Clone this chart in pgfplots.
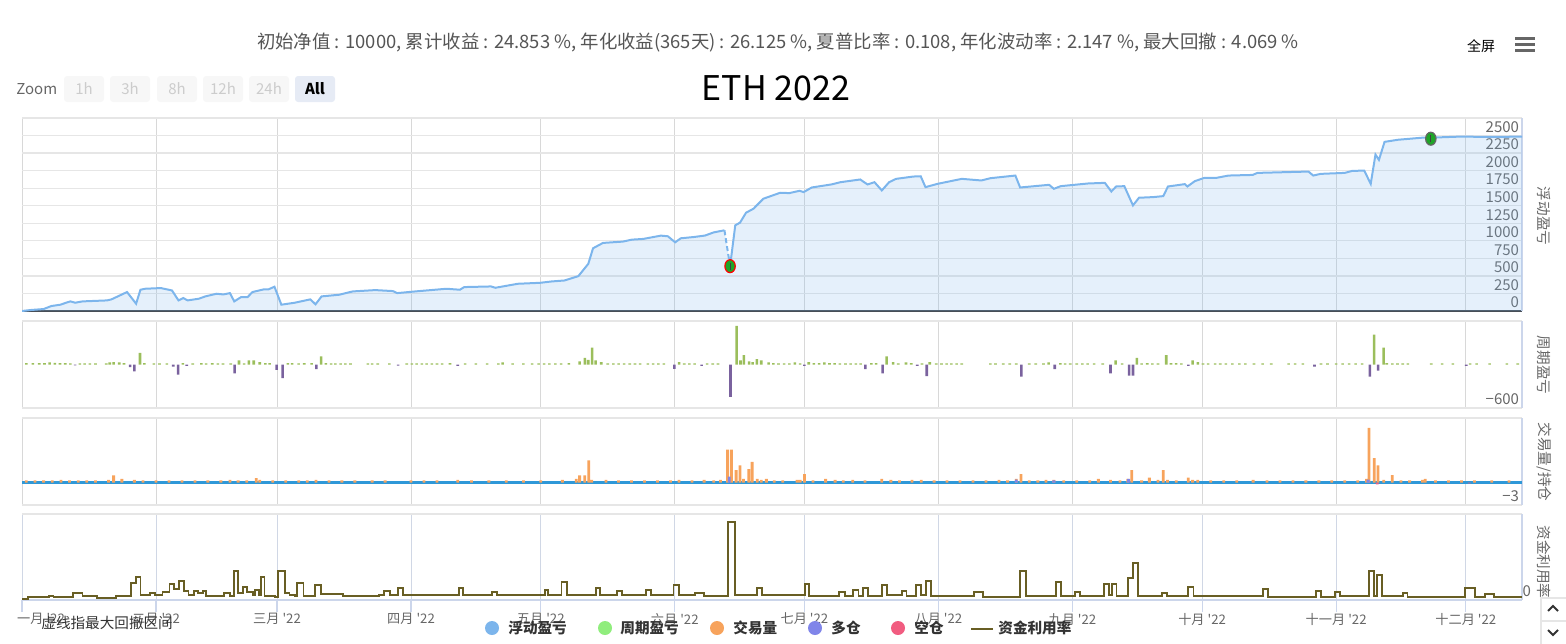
\documentclass[border=0pt]{standalone}
\usepackage{fontspec}
\setmainfont{Noto Sans CJK SC}
\usepackage{pgfplots}
\usepackage{pgfplotstable}
\pgfplotsset{compat=1.18}
\definecolor{eqline}{RGB}{124,181,236}
\definecolor{barG}{RGB}{155,190,92}
\definecolor{barP}{RGB}{122,98,158}
\definecolor{legG}{RGB}{144,237,125}
\definecolor{orng}{RGB}{247,163,92}
\definecolor{duo}{RGB}{128,133,233}
\definecolor{kong}{RGB}{241,92,128}
\definecolor{olive}{RGB}{104,94,36}
\definecolor{holdblue}{RGB}{47,152,216}
\definecolor{gridh}{RGB}{230,230,230}
\definecolor{gridv}{RGB}{216,216,216}
\definecolor{axisblue}{RGB}{204,214,235}
\definecolor{axisdark}{RGB}{70,76,84}
\definecolor{txtsix}{RGB}{102,102,102}
\definecolor{txtfive}{RGB}{85,85,85}
\definecolor{txtthree}{RGB}{51,51,51}
\definecolor{btnfill}{RGB}{247,247,247}
\definecolor{btntxt}{RGB}{204,204,204}
\definecolor{btnsel}{RGB}{230,235,245}
\definecolor{mkgreen}{RGB}{30,165,40}
\newcommand{\tickfont}{\fontsize{7.5}{8}\selectfont}
\newcommand{\xtickfont}{\fontsize{6.6}{7}\selectfont}
\newcommand{\legfont}{\fontsize{7.3}{8}\selectfont}
\newcommand{\yr}{ \textquotesingle 22}

\pgfplotstableread{
d v
0 0
2 14
5 28
6.8 71
8.9 90
10.2 118
11.2 137
12.3 118
14 137
19.7 151
20.7 166
24.3 270
26.4 104
27.4 303
28.5 317
32.1 327
34.7 293
36.2 151
37.3 185
38.3 151
40.9 175
42.4 208
45 246
46.6 236
48.1 255
49.1 137
50.7 199
52.2 199
53.3 270
55.9 308
57 308
58.4 346
60 90
63.1 118
66.7 166
67.9 95
69.3 208
73.4 232
76.5 279
81.7 298
85.8 284
86.8 255
91 279
98.2 317
101.3 303
102.3 341
108.5 350
109.5 331
114.7 388
119.9 402
122.5 421
125.5 435
128.7 497
131 672
132.1 894
134.4 970
139 989
141.1 1017
143.7 1027
147.8 1074
149.4 1065
151.1 979
152.4 1036
155.5 1055
158 1075
160 1120
162.5 1150
163.8 639
165 1221
166.1 1259
167.5 1401
169.2 1457
171.5 1600
175.4 1685
177.5 1680
179.9 1713
180.8 1694
182.7 1760
187.2 1803
189.4 1836
193.9 1874
195.6 1803
197.2 1836
198.9 1718
200.6 1836
202.2 1883
206.2 1916
207.9 1920
209 1765
211.8 1812
217.4 1883
221.9 1860
224.1 1893
229.8 1930
230.9 1760
237.6 1798
238.7 1741
240.3 1779
246.6 1817
250.5 1826
252 1703
253.1 1774
255 1779
257 1505
258.4 1614
261.7 1623
264 1637
265.1 1774
269 1808
269.6 1774
271.3 1850
273.5 1897
276.3 1897
279.1 1930
284.7 1939
285.8 1968
297.6 1987
298.7 1930
300.4 1954
306 1968
307.7 1996
310.5 2001
312 1812
313.1 2229
313.9 2153
315.2 2410
318.3 2440
324 2470
325.9 2470
332.7 2485
340 2480
347 2485
}\eqdata

\pgfplotsset{
 panel/.style={
  scale only axis, width=750pt, xmin=0, xmax=347, anchor=south west,
  xtick={0,31,59,90,120,151,181,212,243,273,304,334},
  xticklabels={},
  xmajorgrids, ymajorgrids,
  every axis x grid/.style={draw=gridv, line width=0.5pt},
  every axis y grid/.style={draw=gridh, line width=0.6pt},
  tick style={draw=none},
  axis x line*=bottom, axis y line*=right,
  x axis line style={-, draw=none},
  y axis line style={-, draw=axisblue, line width=0.6pt},
  yticklabel pos=right,
  yticklabel style={anchor=south east, inner sep=1.3pt, font=\tickfont, text=txtsix},
 }
}

\begin{document}
\begin{tikzpicture}[x=0.5pt,y=-0.5pt]
\path[use as bounding box] (0,0) rectangle (1566,643);
\coordinate (P1) at (22,311);
\coordinate (P2) at (22,408);
\coordinate (P3) at (22,505);
\coordinate (P4) at (22,600);

% header
\node[text=txtfive, font=\fontsize{9.2}{10}\selectfont] at (778,43) {初始净值 : 10000, 累计收益 : 24.853 \%, 年化收益(365天) : 26.125 \%, 夏普比率 : 0.108, 年化波动率 : 2.147 \%, 最大回撤 : 4.069 \%};
\node[text=black, font=\fontsize{7}{8}\selectfont] at (1481,46) {全屏};
\foreach \yy in {38,44,50} {\draw[txtsix, line width=1.5pt] (1515,\yy) -- (1535,\yy);}
\node[text=txtsix, font=\fontsize{7.5}{9}\selectfont, anchor=west, inner sep=0pt] at (16,89) {Zoom};
\foreach \xa/\lab in {64/1h,110/3h,157/8h,203/12h,249/24h} {
  \fill[btnfill, rounded corners=1.5pt] (\xa,76) rectangle ++(40,26);
  \node[text=btntxt, font=\fontsize{7.5}{9}\selectfont] at (\xa+20,89) {\lab};
}
\fill[btnsel, rounded corners=1.5pt] (295,76) rectangle ++(40,26);
\node[text=black, font=\bfseries\fontsize{7.5}{9}\selectfont] at (315,89) {All};
\node[text=black, font=\fontsize{17}{20}\selectfont] at (776,88) {ETH 2022};

% panel 1
\begin{axis}[panel, at={(P1)}, height=96.5pt,
  ymin=0, ymax=2750, ytick={0,250,...,2750},
  yticklabels={0,250,500,750,1000,1250,1500,1750,2000,2250,2500,{}},
  x axis line style={-, draw=axisdark, line width=1.1pt}]
\addplot[draw=none, fill=eqline, fill opacity=0.2] table {\eqdata} \closedcycle;
\addplot[eqline, line width=1pt, restrict x to domain=0:162.6] table {\eqdata};
\addplot[eqline, line width=1pt, dash pattern=on 2.5pt off 1.5pt] coordinates {(162.5,1150) (163.8,639)};
\addplot[eqline, line width=1pt, restrict x to domain=163.7:347] table {\eqdata};
\addplot[only marks, mark=*, mark size=2.6pt, mark options={fill=mkgreen, draw=red, line width=0.6pt, yscale=1.25}] coordinates {(163.8,639)};
\addplot[only marks, mark=*, mark size=2.6pt, mark options={fill=mkgreen, draw=black!60, line width=0.6pt, yscale=1.25}] coordinates {(325.9,2455)};
\addplot[only marks, mark=|, mark size=1.7pt, mark options={draw=black!75, line width=0.4pt}] coordinates {(163.8,639) (325.9,2455)};
\end{axis}

% panel 2
\begin{axis}[panel, at={(P2)}, height=43.5pt,
  ymin=-600, ymax=600, ytick={-600,600}, yticklabels={−600,{}}]
\addplot[ybar, bar width=1.3pt, fill=barG, draw=none] coordinates {
(1,18)(2.5,18)(4,18)(5.2,18)(6.4,28)(7.6,22)(8.8,20)(10,18)(11.2,15)(13.4,15)(14.5,15)(15.7,15)(17,15)(19.5,15)(20.3,28)(21.2,33)(22.5,28)(23.6,20)(27.3,159)(28.3,20)(30.5,15)(31.8,15)
(33.5,15)(37.2,19)(39.5,15)(41.5,20)(42.6,15)(44,20)(45.3,15)(46.5,15)(48.3,15)(50.2,56)(51.4,15)(52.5,56)(53.6,56)(55,33)(56.3,20)(57.3,20)
(61.5,20)(62.5,20)(64,15)(65.3,20)(67,20)(69.2,112)(70.3,20)(71.5,15)(72.5,15)(73.7,15)(74.8,15)(76,15)(80,15)(81,15)(82.3,15)(85,15)
(89,15)(90.2,15)(91.3,15)(92.5,15)(93.6,15)(94.8,15)(96,15)(97.2,15)(99,20)(102.5,15)(105,15)(107.6,15)(110.2,15)(111.2,28)(113.5,15)(116,15)
(118,15)(119.5,15)(120.8,15)(122,15)(123.4,15)(124.7,15)(126.5,20)(129,42)(130.2,93)(131,65)(131.9,233)(132.7,56)(134,33)(135.5,15)(136.8,15)(138,15)(139.3,15)(140.6,15)(141.8,15)(143,15)(144.8,15)(146,15)(147.2,15)(148.5,15)(152,33)(153.2,15)(154.4,15)(155.6,15)(158.5,15)(159.8,15)(161,15)
(165.3,532)(166.2,56)(167,131)(168.2,42)(169,33)(170,75)(171,56)(172.7,28)(173.8,20)(175,15)(176.3,15)(177.5,15)(178.8,28)(180,15)(182,33)(183.2,20)(184.4,20)(185.6,28)(186.8,20)(188,20)(189.2,15)(190.5,15)(191.7,15)(192.9,15)(194,15)(196.5,20)(197.6,20)(200,112)(201.5,33)(202.7,15)(204.5,28)(205.7,20)(208.2,15)(210,33)(211.5,15)(212.7,15)(213.9,15)(215,15)(216.2,15)(217.4,15)
(224,15)(225.2,15)(227,15)(228.5,15)(230,15)(233,15)(234.5,15)(236.3,15)(237.5,28)(240.2,19)(241.3,15)(242.5,15)(244,15)(245.3,15)(246.5,15)(248,15)
(250,15)(253,56)(254.5,15)(257.9,93)(259,15)(260.3,20)(261.5,15)(262.8,15)(264.7,131)(265.8,20)(267,20)(268.2,15)(270.8,56)(272,33)(273.2,15)(274.4,15)(276,15)(277.2,15)(278.5,15)(280,15)(281.6,15)(283,15)(285,15)(287,15)(289,15)
(293,15)(294.5,15)(296.3,15)(300.5,15)(302,15)(304,15)(305.5,15)(307,15)(308.5,15)(310,15)(312.8,411)(315,233)(315.7,20)(317,15)(318.2,15)(319.4,15)(320.6,15)(326,15)(328.5,15)(331,15)(335,15)(336.5,15)(339.5,15)(343.5,15)(346,15)
};
\addplot[ybar, bar width=1.3pt, fill=barP, draw=none] coordinates {
(12.3,-12)(25,-37)(26,-93)(35,-28)(36.1,-140)(38.1,-20)(49.2,-121)(58.9,-75)(60.3,-187)(68.1,-65)(87,-15)(100.8,-20)(150.9,-60)(157.2,-20)(163.9,-448)(181,-20)(195.1,-65)(199.1,-121)(207.1,-20)(209.3,-159)(231.2,-168)(238.9,-65)(251.8,-121)(256.1,-154)(257,-154)(269.8,-20)(299,-28)(311.8,-168)(313.7,-84)(334.1,-20)
};
\end{axis}

% panel 3
\begin{axis}[panel, at={(P3)}, height=43.5pt,
  ymin=-3, ymax=8.6, ytick={-3,8.6}, yticklabels={−3,{}}]
\addplot[holdblue, line width=1.3pt] coordinates {(0,0) (347,0)};
\addplot[ybar, bar width=1.4pt, fill=orng, draw=none] coordinates {
(1,0.3)(3,0.3)(5,0.3)(7,0.3)(9,0.35)(11,0.3)(13,0.3)(15,0.3)(17,0.3)(20,0.35)(21.2,0.96)(23.1,0.5)(26,0.35)(28,0.3)(31,0.3)(34,0.3)(37,0.3)(40,0.3)(43,0.3)(46,0.3)(48.1,0.35)(50,0.3)(52,0.3)(54.2,0.6)(55,0.35)(58,0.3)(61,0.3)(64,0.3)(66,0.3)(68,0.35)(71,0.3)(74,0.3)(77,0.3)(81,0.3)(84,0.3)(90,0.3)(93,0.3)(96,0.3)(100.8,0.35)(104,0.3)(108,0.3)(112,0.3)(116,0.3)(120,0.3)(125,0.35)(128.2,0.5)(129,0.96)(130.2,0.96)(131.1,2.96)(131.8,0.35)(135.1,0.35)(138,0.3)(141,0.3)(144,0.3)(147,0.3)(150,0.3)(152,0.35)(155,0.3)(157.8,0.35)(160,0.3)(161.6,0.35)(163.2,4.4)(164.1,4.4)(165.2,1.65)(166.1,2.3)(166.9,0.48)(168.1,1.8)(168.9,2.74)(170.1,0.5)(171,0.35)(172.2,0.48)(174,0.3)(176,0.3)(179.3,0.35)(180,0.35)(181,1.13)(183,0.3)(185.9,0.48)(188.1,0.35)(190,0.3)(192.2,0.35)(195,0.3)(198.9,0.48)(201,0.35)(203,0.3)(205.9,0.35)(208,0.35)(211,0.3)(214,0.3)(217,0.3)(220,0.3)(223,0.3)(226,0.35)(228,0.3)(230,0.48)(231.1,1.13)(233,0.3)(235,0.3)(236.9,0.35)(238.7,0.35)(241,0.3)(244,0.3)(247,0.3)(249,0.48)(251.8,0.35)(254,0.3)(255.8,0.48)(256.7,1.65)(259,0.3)(260.8,0.65)(262.8,0.35)(264,1.65)(265,0.35)(267,0.3)(269.8,0.65)(270.8,0.35)(272,0.35)(275,0.3)(278,0.3)(281,0.3)(284.8,0.35)(288,0.3)(291,0.3)(294,0.3)(297,0.3)(300,0.3)(303,0.3)(306,0.3)(309,0.3)(311,0.48)(311.6,7.3)(312.8,3.26)(313.7,2.3)(315,0.35)(317,1.0)(319,0.3)(321,0.3)(324,0.35)(324.6,0.48)(327,0.3)(330,0.3)(333,0.3)(336,0.3)(340,0.3)(344,0.3)
};
\addplot[ybar, bar width=1.4pt, fill=duo, draw=none] coordinates {(163.6,0.8)(230,0.4)(238.7,0.3)(256,0.5)(311.4,0.4)};
\addplot[ybar, bar width=1.4pt, fill=kong, draw=none] coordinates {(313.5,-0.25)(334.8,-0.12)};
\end{axis}

% panel 4
\begin{axis}[panel, at={(P4)}, height=43pt,
  ymin=0, ymax=86, ytick={0,86}, yticklabels={0,{}},
  x axis line style={-, draw=axisblue, line width=0.6pt},
  xtick style={draw=axisblue, line width=0.6pt}, ytick style={draw=none},
  tick align=outside, xtick pos=bottom, major tick length=6pt,
  every axis x grid/.style={draw=axisblue!70!gridv, line width=0.5pt},
  xticklabels={\hspace*{19pt}一月\yr,二月\yr,三月\yr,四月\yr,五月\yr,六月\yr,七月\yr,八月\yr,九月\yr,十月\yr,十一月\yr,十二月\yr},
  xticklabel style={font=\xtickfont, text=txtsix, anchor=north, yshift=3pt}]
\addplot[const plot, olive, line width=0.9pt] coordinates {
(0,1)(1.3,2.7)(6.2,4.3)(7.3,3.3)(11.8,7)(14,3.7)(17.4,2.3)(21.8,4.3)(24.5,4.3)(25.2,16.7)(26.3,23)(27.4,5)(29.6,7.3)(30.7,5)(32.5,8.3)(34.1,15.7)(35.2,11)(36.3,19)(37.4,9)(38.5,5)(39.7,9)(40.8,6.7)(41.9,9)(42.6,4)(46.8,6.7)(48.1,4)(49,29)(49.9,6.7)(50.4,6.7)(51.2,13)(52.1,8.3)(53.5,5)(53.9,9.7)(54.8,5)(55.3,23)(56.1,4)(58.6,3)(59.3,29.3)(60.8,6.7)(61.9,5)(63.1,4)(63.7,16.7)(65.1,3.7)(67.7,15)(69.1,5.7)(74.2,4.3)(80.9,4.3)(82.5,5)(83.8,9)(85.1,5)(86.9,11.7)(88.2,5)(101,11.7)(102.1,5)(108.8,8.3)(109.9,5)(121,10)(121.7,5)(124.8,17.7)(126.1,5)(132.8,11.7)(133.7,5)(137.7,9)(138.8,5)(144.4,10)(145.5,5)(150.7,15)(152,5)(155.6,6.7)(157.8,4)(163.4,78.3)(164.9,5)(170.1,11.7)(171.2,5)(181.2,15.7)(182.1,4)(189,8.3)(190.4,4)(192.3,10)(193.5,4)(194.6,11.7)(195.7,4)(199,15)(200.1,5)(203.5,9)(204.6,4)(206.9,15)(208,5)(209.1,19)(210.2,4)(220.2,8.3)(222.4,3.3)(230.9,29)(232.3,4)(239.2,17.7)(240.3,4)(243.6,8.3)(244.7,4)(250.3,15.7)(251.4,5)(252.1,15.7)(253.2,4)(255.9,21.7)(257,36.7)(258.1,4)(263.7,6.7)(264.8,4)(269.7,13.3)(271,4)(287.1,10.7)(288.2,3.3)(299.4,9)(300.5,3.3)(303.8,8.3)(304.9,4)(311.6,29)(312.7,4)(313.4,25)(314.7,4)(319.4,6.7)(320.5,3.3)(333.9,11.7)(336.1,3.3)(338.4,5.7)(340.6,3.3)(347,3.3)
};
\end{axis}

% right axis titles
\node[rotate=-90, text=txtsix, font=\legfont] at (1544,216) {浮动盈亏};
\node[rotate=-90, text=txtsix, font=\legfont] at (1544,365) {周期盈亏};
\node[rotate=-90, text=txtsix, font=\legfont] at (1544,462) {交易量/持仓};
\node[rotate=-90, text=txtsix, font=\legfont] at (1544,562) {资金利用率};

% bottom note and legend
\node[anchor=west, text=txtthree, font=\legfont, inner sep=0pt] at (41,623) {虚线指最大回撤区间};
\fill[eqline] (492,628) circle (7);
\node[anchor=west, text=txtthree, font=\bfseries\legfont, inner sep=0pt] at (508,628) {浮动盈亏};
\fill[legG] (605,628) circle (7);
\node[anchor=west, text=txtthree, font=\bfseries\legfont, inner sep=0pt] at (620,628) {周期盈亏};
\fill[orng] (717,628) circle (7);
\node[anchor=west, text=txtthree, font=\bfseries\legfont, inner sep=0pt] at (733,628) {交易量};
\fill[duo] (815,628) circle (7);
\node[anchor=west, text=txtthree, font=\bfseries\legfont, inner sep=0pt] at (831,628) {多仓};
\fill[kong] (898,628) circle (7);
\node[anchor=west, text=txtthree, font=\bfseries\legfont, inner sep=0pt] at (914,628) {空仓};
\draw[olive, line width=1pt] (971,629) -- (993,629);
\node[anchor=west, text=txtthree, font=\bfseries\legfont, inner sep=0pt] at (998,628) {资金利用率};

% scroll box
\draw[gridh, line width=0.6pt] (1541,598) rectangle (1570,645);
\draw[gridh, line width=0.6pt] (1541,621) -- (1566,621);
\draw[txtthree, line width=1pt] (1548,611) -- (1553,606) -- (1558,611);
\draw[txtthree, line width=1pt] (1548,630) -- (1553,635) -- (1558,630);
\end{tikzpicture}
\end{document}
